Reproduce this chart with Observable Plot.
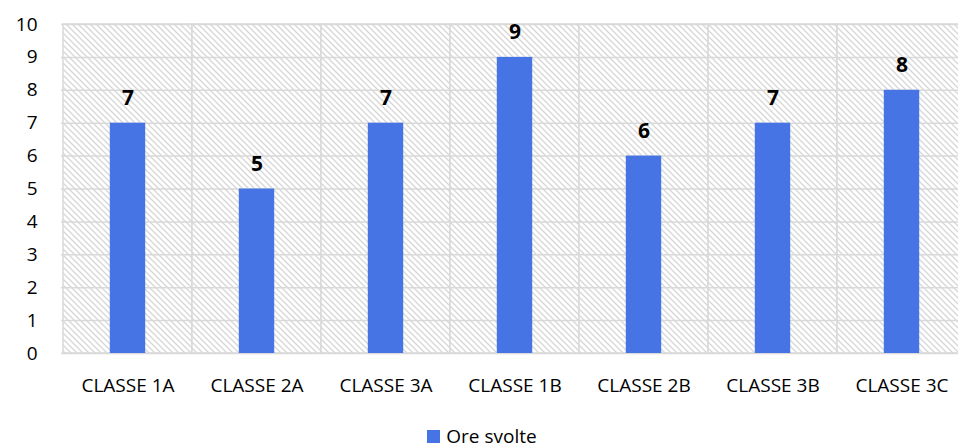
<!DOCTYPE html>
<html>
<head>
<meta charset="utf-8">
<script src="https://cdn.jsdelivr.net/npm/d3@7"></script>
<script src="https://cdn.jsdelivr.net/npm/@observablehq/plot@0.6"></script>
<style>
  html, body { margin: 0; padding: 0; background: #fff; }
  #chart { width: 958px; }
  #chart svg { display: block; overflow: hidden; }
  .legend { font-family: "Open Sans", sans-serif; font-size: 19px; color: #000; height: 24px; line-height: 24px;
            display: flex; align-items: center; justify-content: center; padding-left: 6px; }
  .legend .sw { display: inline-block; width: 13px; height: 13px; background: #4674E4; margin-right: 6px; }
</style>
</head>
<body>
<svg width="0" height="0" style="position:absolute">
  <defs>
    <pattern id="hatch" patternUnits="userSpaceOnUse" width="6" height="6">
      <rect width="6" height="6" fill="#ffffff"/>
      <path d="M-1,-1 L7,7 M-1,5 L1,7 M5,-1 L7,1" stroke="#d6d6d6" stroke-width="1.3"/>
    </pattern>
  </defs>
</svg>
<div id="chart"></div>
<script>
const categories = ["CLASSE 1A", "CLASSE 2A", "CLASSE 3A", "CLASSE 1B", "CLASSE 2B", "CLASSE 3B", "CLASSE 3C"];
const values = [7, 5, 7, 9, 6, 7, 8];
const yTicks = [0, 1, 2, 3, 4, 5, 6, 7, 8, 9, 10];
const seriesName = "Ore svolte";

const data = categories.map((c, i) => ({category: c, value: values[i]}));
const barColor = "#4674E4";
const font = "'Open Sans', sans-serif";

const chart = Plot.plot({
  width: 958,
  height: 424,
  marginTop: 24,
  marginBottom: 71,
  marginLeft: 61,
  marginRight: 0,
  style: {fontFamily: font, fontSize: "19px", color: "#000", background: "#fff"},
  x: {domain: categories, range: [61, 968.5], padding: 0, label: null, axis: null},
  y: {domain: [0, 10], range: [353, 24], label: null, axis: null},
  marks: [
    Plot.barY(categories, {x: d => d, y1: 0, y2: 10, fill: "url(#hatch)", stroke: "#d9d9d9", strokeWidth: 1.5}),
    Plot.ruleY(yTicks, {stroke: "#d9d9d9", strokeWidth: 1.5}),
    Plot.barY(data, {x: "category", y: "value", fill: barColor, insetLeft: 46.8, insetRight: 46.8}),
    Plot.text(data, {x: "category", y: "value", text: d => String(d.value), dy: -25, fontWeight: "bold", fontSize: 21, fill: "#000"}),
    Plot.text(yTicks, {y: d => d, text: d => String(d), frameAnchor: "left", textAnchor: "end", dx: -24, fontSize: 19, fill: "#000"}),
    Plot.text(categories, {x: d => d, y: 0, text: d => d, dy: 32, fontSize: 19, fill: "#000"})
  ]
});
document.getElementById("chart").appendChild(chart);
const legend = document.createElement("div");
legend.className = "legend";
legend.innerHTML = `<span class="sw"></span><span>${seriesName}</span>`;
document.getElementById("chart").appendChild(legend);
</script>
</body>
</html>
